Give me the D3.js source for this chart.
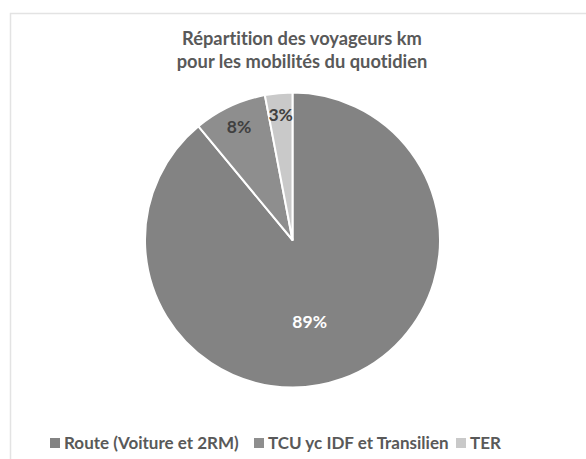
<!DOCTYPE html>
<html lang="fr">
<head>
<meta charset="UTF-8">
<title>Répartition des voyageurs km</title>
<script src="https://d3js.org/d3.v7.min.js"></script>
<style>
  body { margin: 0; background: #fff; }
  svg { display: block; font-family: Lato, "Open Sans", sans-serif; font-variant-ligatures: none; }
</style>
</head>
<body>
<div id="chart"></div>
<script>
// data
const categories = ["Route (Voiture et 2RM)", "TCU yc IDF et Transilien", "TER"];
const values = [89, 8, 3];
const labels = ["89%", "8%", "3%"];
const titleLines = ["Répartition des voyageurs km", "pour les mobilités du quotidien"];

const width = 586, height = 459;
const colors = ["#838383", "#8e8e8e", "#c9c9c9"];
const labelColors = ["#ffffff", "#404040", "#404040"];

const svg = d3.select("#chart").append("svg")
  .attr("width", width)
  .attr("height", height);

// chart frame
svg.append("rect")
  .attr("x", 10.5).attr("y", 13.5)
  .attr("width", 600).attr("height", 500)
  .attr("fill", "#fff")
  .attr("stroke", "#e3e3e3")
  .attr("stroke-width", 1.5);

// title
svg.append("text")
  .attr("x", 302).attr("y", 45)
  .attr("text-anchor", "middle")
  .attr("fill", "#595959")
  .attr("font-size", 18.3)
  .attr("font-weight", 700)
  .selectAll("tspan")
  .data(titleLines)
  .join("tspan")
  .attr("x", 302)
  .attr("dy", (d, i) => i ? 23 : 0)
  .text(d => d);

// pie
const cx = 292.5, cy = 240, r = 147.5;
const pie = d3.pie().sort(null).value(d => d);
const arcs = pie(values);
const arc = d3.arc().innerRadius(0).outerRadius(r);

const g = svg.append("g").attr("transform", `translate(${cx},${cy})`);

g.selectAll("path")
  .data(arcs)
  .join("path")
  .attr("d", arc)
  .attr("fill", (d, i) => colors[i])
  .attr("stroke", "#fff")
  .attr("stroke-width", 2)
  .attr("stroke-linejoin", "round");

// data labels (big slice sits closer to the centre, like Excel best fit)
g.selectAll("text")
  .data(arcs)
  .join("text")
  .attr("transform", d => {
    const big = (d.endAngle - d.startAngle) > Math.PI;
    const lr = big ? r * 0.57 : r * 0.85;
    const a = (d.startAngle + d.endAngle) / 2 + (big ? 0.14 : 0);
    return `translate(${Math.sin(a) * lr},${-Math.cos(a) * lr})`;
  })
  .attr("text-anchor", "middle")
  .attr("dy", "0.35em")
  .attr("font-size", 17.5)
  .attr("font-weight", 700)
  .attr("fill", (d, i) => labelColors[i])
  .text((d, i) => labels[i]);

// legend
const legend = svg.append("g").attr("transform", "translate(0,443)");
const legendX = [50, 254, 456];
const items = legend.selectAll("g")
  .data(categories)
  .join("g")
  .attr("transform", (d, i) => `translate(${legendX[i]},0)`);

items.append("rect")
  .attr("x", 0).attr("y", -5)
  .attr("width", 10).attr("height", 10)
  .attr("fill", (d, i) => colors[i]);

items.append("text")
  .attr("x", 14)
  .attr("dy", "0.36em")
  .attr("fill", "#595959")
  .attr("font-size", 17)
  .attr("font-weight", 700)
  .text(d => d);
</script>
</body>
</html>
